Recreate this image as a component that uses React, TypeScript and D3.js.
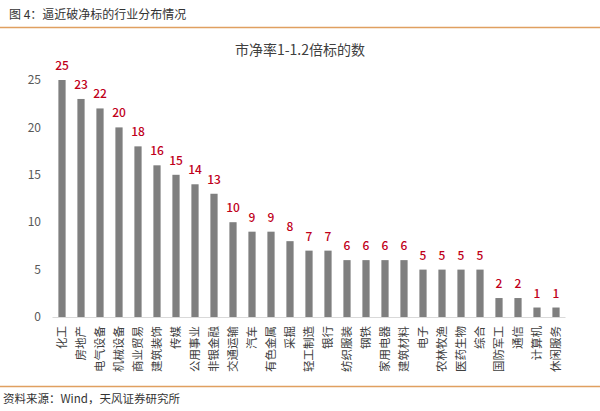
import React from 'react';
import * as d3 from 'd3';

const categories = ['化工', '房地产', '电气设备', '机械设备', '商业贸易', '建筑装饰', '传媒', '公用事业', '非银金融', '交通运输', '汽车', '有色金属', '采掘', '轻工制造', '银行', '纺织服装', '钢铁', '家用电器', '建筑材料', '电子', '农林牧渔', '医药生物', '综合', '国防军工', '通信', '计算机', '休闲服务'];
const counts = [25, 23, 22, 20, 18, 16, 15, 14, 13, 10, 9, 9, 8, 7, 7, 6, 6, 6, 6, 5, 5, 5, 5, 2, 2, 1, 1];
const yTicks = [0, 5, 10, 15, 20, 25];

const W = 600;
const H = 411;
const font = '"Noto Sans CJK SC", "Noto Sans", sans-serif';

export default function App() {
  const x = d3.scaleBand<string>()
    .domain(categories)
    .range([52.5, 565.5])
    .paddingInner(0.62)
    .paddingOuter(0.31);

  const y = d3.scaleLinear().domain([0, 25]).range([317, 80]);

  return (
    <svg width={W} height={H} style={{ position: 'absolute', left: 0, top: 0, background: '#fff' }} fontFamily={font}>
      {/* header */}
      <text x={9} y={19} fontSize={12} fill="#333">图 4：逼近破净标的行业分布情况</text>
      <line x1={0} x2={W} y1={27.5} y2={27.5} stroke="#e0a060" strokeWidth={1.5} />

      <text x={300} y={55} textAnchor="middle" fontSize={14} fill="#404040">市净率1-1.2倍标的数</text>

      {/* y axis labels */}
      {yTicks.map(t => (
        <text key={t} x={41} y={y(t)} dy="0.35em" textAnchor="end" fontSize={12} fill="#595959">{t}</text>
      ))}

      {/* bars */}
      {categories.map((c, i) => (
        <g key={c}>
          <rect x={x(c)} y={y(counts[i])} width={x.bandwidth()} height={y(0) - y(counts[i])} fill="#7f7f7f" />
          <text x={(x(c) ?? 0) + x.bandwidth() / 2} y={y(counts[i]) - 10} textAnchor="middle" fontSize={12} fontWeight={500} fill="#c0001a">{counts[i]}</text>
          <text
            transform={`translate(${(x(c) ?? 0) + x.bandwidth() / 2},${326}) rotate(-90)`}
            textAnchor="end"
            dy="0.35em"
            fontSize={11.5}
            fill="#404040"
          >{c}</text>
        </g>
      ))}

      <line x1={x.range()[0]} x2={x.range()[1]} y1={317.5} y2={317.5} stroke="#d9d9d9" />

      {/* footer */}
      <line x1={0} x2={W} y1={386.5} y2={386.5} stroke="#e0a060" strokeWidth={1.5} />
      <text x={3} y={403} fontSize={11.5} fill="#333">资料来源：Wind，天风证券研究所</text>
    </svg>
  );
}
